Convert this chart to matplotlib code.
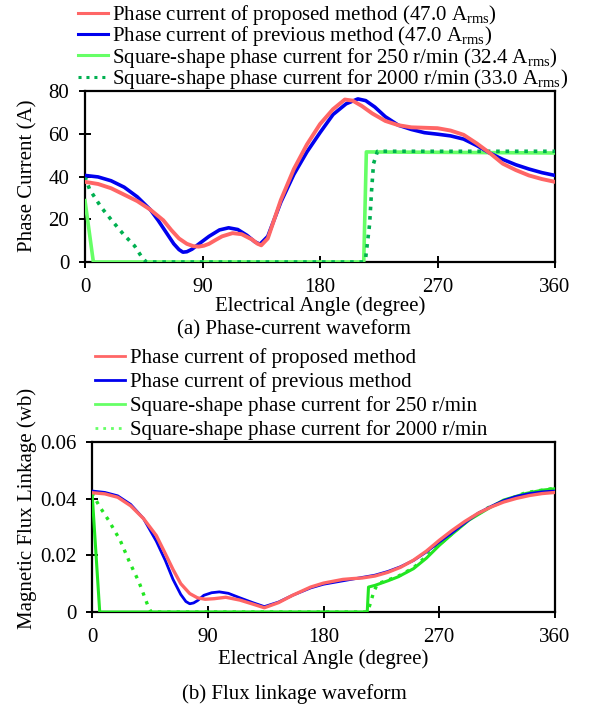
import matplotlib
matplotlib.use("Agg")
import matplotlib.pyplot as plt

plt.rcParams['font.family'] = ['Liberation Serif', 'DejaVu Serif']
plt.rcParams['mathtext.fontset'] = 'custom'
plt.rcParams['mathtext.rm'] = 'Liberation Serif'
plt.rcParams['mathtext.it'] = 'Liberation Serif:italic'

# ---------------- Data: phase current (A) ----------------
prev_cur_ang = [0, 10, 20, 30, 40, 50, 56, 62, 68, 72, 75, 78, 82, 88, 95, 103, 110, 117, 124,
                130, 134, 140, 150, 160, 170, 180, 190, 200, 209, 215, 222, 230, 240, 250,
                260, 270, 280, 290, 300, 310, 320, 330, 340, 350, 360]
prev_cur_val = [40.5, 39.8, 38.0, 35.0, 30.5, 24.5, 19.5, 14.0, 8.5, 5.8, 4.6, 4.8, 6.0, 8.8,
                12.0, 15.0, 16.0, 15.2, 12.5, 9.5, 8.3, 12.0, 28.0, 41.0, 51.5, 60.5, 69.0,
                74.0, 76.3, 75.5, 72.5, 68.0, 64.0, 62.0, 60.5, 59.8, 59.0, 57.5, 54.5, 51.0,
                48.0, 45.5, 43.5, 41.8, 40.5]

prop_cur_ang = [0, 10, 20, 30, 40, 50, 60, 66, 72, 78, 83, 87, 91, 95, 100, 105, 113, 120,
                128, 132, 135, 140, 150, 160, 170, 180, 190, 199, 205, 212, 220, 230, 240,
                250, 260, 270, 280, 290, 300, 310, 320, 330, 340, 350, 360]
prop_cur_val = [37.5, 36.5, 34.5, 31.5, 28.5, 24.5, 19.5, 15.0, 11.0, 8.5, 7.4, 7.2, 7.6, 8.5,
                10.3, 12.0, 13.5, 13.0, 10.5, 8.6, 7.8, 11.0, 29.0, 43.5, 55.0, 64.5, 71.5,
                76.0, 75.5, 73.0, 69.5, 66.0, 64.0, 63.0, 62.8, 62.6, 61.5, 59.5, 55.5, 51.0,
                46.0, 43.0, 40.5, 38.8, 37.5]

sq250_cur_ang = [0, 6.4, 213.5, 215.5, 360]
sq250_cur_val = [28.7, 0, 0, 51.5, 51.0]

sq2000_cur_ang = [0, 3.5, 12.4, 20.7, 29.4, 38, 43.8, 47, 213, 215, 218, 219.5, 221, 224, 360]
sq2000_cur_val = [40, 34, 25.6, 19.3, 13, 7.5, 2, 0, 0, 2, 17.7, 33.4, 46, 51.8, 51.8]

# ---------------- Data: flux linkage (wb) ----------------
prev_flux_ang = [0, 10, 20, 30, 40, 50, 57, 63, 69, 73, 76, 79, 82, 87, 93, 99, 106, 115, 125,
                 134, 145, 156, 170, 180, 195, 210, 220, 230, 240, 250, 260, 270, 280, 290,
                 300, 310, 320, 330, 340, 350, 360]
prev_flux_val = [0.0427, 0.0422, 0.0410, 0.0380, 0.0330, 0.0250, 0.0182, 0.0115, 0.0062,
                 0.0037, 0.0029, 0.0032, 0.0040, 0.0059, 0.0068, 0.0071, 0.0066, 0.0050,
                 0.0033, 0.0019, 0.0035, 0.0059, 0.0085, 0.0098, 0.0110, 0.0122, 0.0130,
                 0.0143, 0.0160, 0.0182, 0.0212, 0.0247, 0.0280, 0.0315, 0.0348, 0.0372,
                 0.0393, 0.0408, 0.0418, 0.0424, 0.0427]

prop_flux_ang = [0, 10, 20, 30, 40, 50, 57, 63, 69, 76, 82, 88, 95, 104, 115, 125, 134, 145,
                 156, 170, 180, 195, 203, 210, 220, 230, 240, 250, 260, 270, 280, 290, 300,
                 310, 320, 330, 340, 350, 360]
prop_flux_val = [0.0421, 0.0417, 0.0405, 0.0375, 0.0330, 0.0270, 0.0206, 0.0150, 0.0100,
                 0.0065, 0.0050, 0.0045, 0.0047, 0.0052, 0.0042, 0.0028, 0.0015, 0.0033,
                 0.0059, 0.0088, 0.0102, 0.0115, 0.0118, 0.0120, 0.0127, 0.0140, 0.0158,
                 0.0183, 0.0215, 0.0253, 0.0288, 0.0320, 0.0348, 0.0370, 0.0388, 0.0401,
                 0.0411, 0.0418, 0.0422]

sq250_flux_ang = [0, 6, 214, 215, 220, 230, 238, 250, 260, 270, 280, 293, 308, 320, 337, 350, 360]
sq250_flux_val = [0.0425, 0, 0, 0.0088, 0.0094, 0.0110, 0.0124, 0.0153, 0.0190, 0.0235,
                  0.0275, 0.0324, 0.0365, 0.0395, 0.0418, 0.0430, 0.0435]

sq2000_flux_ang = [0, 5.8, 13, 21.9, 29.2, 36.5, 43.8, 46, 214, 216, 219, 222, 226, 238, 250,
                   270, 293, 308, 337, 360]
sq2000_flux_val = [0.042, 0.0373, 0.0323, 0.0253, 0.0176, 0.0106, 0.0018, 0, 0, 0.0024,
                   0.0070, 0.0100, 0.0106, 0.0126, 0.0156, 0.0238, 0.0327, 0.0368, 0.0421,
                   0.0437]

x_ticks = [0, 90, 180, 270, 360]
cur_ticks = [0, 20, 40, 60, 80]
flux_ticks = [0, 0.02, 0.04, 0.06]
flux_tick_labels = ['0', '0.02', '0.04', '0.06']

C_RED = '#FF6666'
C_BLUE = '#0000EE'
C_LGREEN = '#66FF66'
C_DGREEN = '#00B050'
C_GREEN = '#22E622'

W, H = 590, 706
fig = plt.figure(figsize=(W / 100, H / 100), dpi=100)


def box(l, t, r, b):
    return [l / W, 1 - b / H, (r - l) / W, (b - t) / H]


TICK_FS = 15
LAB_FS = 15
LEG_FS = 15

def style_axes(ax):
    for s in ax.spines.values():
        s.set_linewidth(1.6)
        s.set_color('black')
    ax.tick_params(direction='inout', length=8.6, width=1.4, labelsize=TICK_FS,
                   top=False, right=False, pad=7)
    ax.set_xlim(0, 360)
    ax.set_xticks(x_ticks)


# ---------------- Top axes ----------------
ax1 = fig.add_axes(box(85, 91, 555, 262))
ax1.plot(sq250_cur_ang, sq250_cur_val, color=C_LGREEN, lw=2.6, zorder=3,
         label='Square-shape phase current for 250 r/min (32.4 A$_{\\mathrm{rms}}$)')
ax1.plot(sq2000_cur_ang, sq2000_cur_val, color=C_DGREEN, lw=2.6, ls=(0, (1, 1.6)),
         zorder=3, label='Square-shape phase current for 2000 r/min (33.0 A$_{\\mathrm{rms}}$)')
ax1.plot(prev_cur_ang, prev_cur_val, color=C_BLUE, lw=2.6, zorder=4,
         label='Phase current of previous method (47.0 A$_{\\mathrm{rms}}$)')
ax1.plot(prop_cur_ang, prop_cur_val, color=C_RED, lw=2.8, zorder=5,
         label='Phase current of proposed method (47.0 A$_{\\mathrm{rms}}$)')
style_axes(ax1)
ax1.set_ylim(0, 80)
ax1.set_yticks(cur_ticks)
ax1.set_xlabel('Electrical Angle (degree)', fontsize=LAB_FS, labelpad=-0.5)
ax1.set_ylabel('Phase Current (A)', fontsize=LAB_FS)
ax1.yaxis.set_label_coords(37 / W, 1 - 176 / H, transform=fig.transFigure)

h, l = ax1.get_legend_handles_labels()
order = [3, 2, 0, 1]
leg1 = ax1.legend([h[i] for i in order], [l[i] for i in order],
                  loc='upper left', bbox_to_anchor=(78 / W, 1 - 3 / H),
                  bbox_transform=fig.transFigure, frameon=False, fontsize=LEG_FS,
                  handlelength=1.45, handletextpad=0.2, labelspacing=-0.13,
                  borderpad=0, borderaxespad=0)
for lh in leg1.get_lines():
    lh.set_linewidth(2.2)

fig.text(294 / W, 1 - 330 / H, '(a) Phase-current waveform', ha='center', va='center',
         fontsize=LAB_FS)

# ---------------- Bottom axes ----------------
ax2 = fig.add_axes(box(92, 442, 555, 612))
ax2.plot(sq250_flux_ang, sq250_flux_val, color=C_GREEN, lw=2.2, zorder=3,
         label='Square-shape phase current for 250 r/min')
ax2.plot(sq2000_flux_ang, sq2000_flux_val, color=C_GREEN, lw=2.4, ls=(0, (1, 1.8)),
         zorder=3, label='Square-shape phase current for 2000 r/min')
ax2.plot(prev_flux_ang, prev_flux_val, color=C_BLUE, lw=2.0, zorder=4,
         label='Phase current of previous method')
ax2.plot(prop_flux_ang, prop_flux_val, color=C_RED, lw=2.4, zorder=5,
         label='Phase current of proposed method')
style_axes(ax2)
ax2.set_ylim(0, 0.06)
ax2.set_yticks(flux_ticks)
ax2.set_yticklabels(flux_tick_labels)
ax2.set_xlabel('Electrical Angle (degree)', fontsize=LAB_FS, labelpad=2)
ax2.set_ylabel('Magnetic Flux Linkage (wb)', fontsize=LAB_FS)
ax2.yaxis.set_label_coords(37 / W, 1 - 508 / H, transform=fig.transFigure)

h, l = ax2.get_legend_handles_labels()
leg2 = ax2.legend([h[i] for i in order], [l[i] for i in order],
                  loc='upper left', bbox_to_anchor=(95 / W, 1 - 348 / H),
                  bbox_transform=fig.transFigure, frameon=False, fontsize=LEG_FS,
                  handlelength=1.45, handletextpad=0.24, labelspacing=0.2,
                  borderpad=0, borderaxespad=0)
for lh, c in zip(leg2.get_lines(), [C_RED, C_BLUE, C_LGREEN, C_LGREEN]):
    lh.set_linewidth(2.0)
    lh.set_color(c)

fig.text(294 / W, 1 - 694 / H, '(b) Flux linkage waveform', ha='center', va='center',
         fontsize=LAB_FS)

fig.savefig('out.png', dpi=100)
